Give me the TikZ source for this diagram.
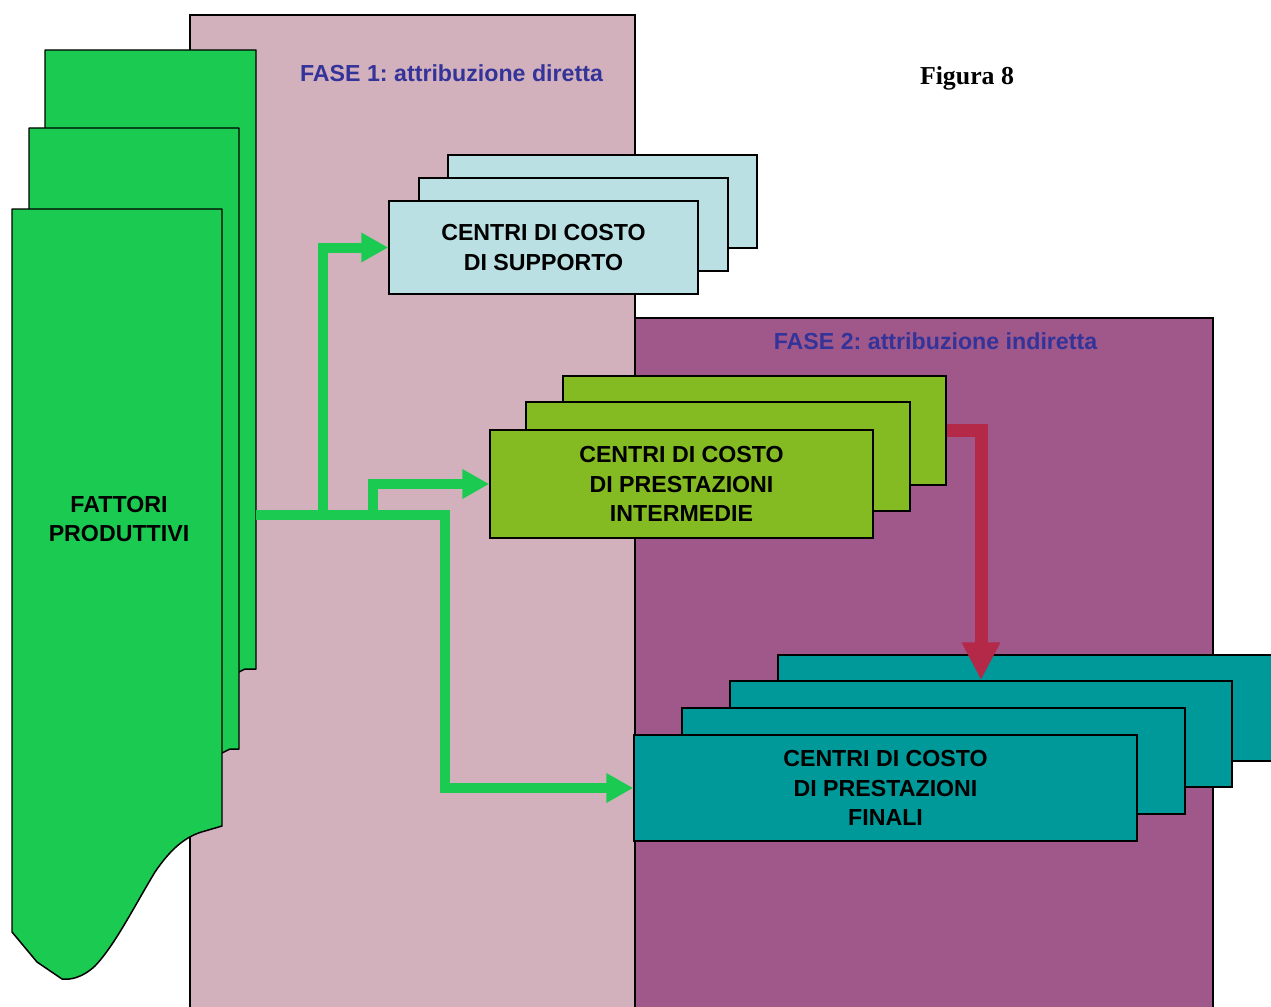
\documentclass[tikz,border=0pt]{standalone}
\usepackage{fontspec}
\setmainfont{Liberation Sans}
\newfontfamily\figfont{Liberation Serif}
\usetikzlibrary{arrows.meta}
\frenchspacing

\definecolor{phaseone}{RGB}{211,177,188}
\definecolor{phasetwo}{RGB}{160,88,138}
\definecolor{factgreen}{RGB}{27,202,80}
\definecolor{supblue}{RGB}{186,224,227}
\definecolor{olive}{RGB}{133,187,34}
\definecolor{tealbox}{RGB}{0,153,153}
\definecolor{flowred}{RGB}{180,40,72}
\definecolor{titleblue}{RGB}{51,51,153}

\def\U{0.02cm}

\tikzset{
  phase/.style={draw=black, line width=0.6pt},
  page/.style={draw=black, line width=0.85pt, fill=factgreen, line join=round},
  centre/.style={draw=black, line width=0.85pt, inner sep=0pt,
    font=\fontsize{13.2}{16.7}\selectfont\bfseries, align=center, text=black},
  supbox/.style={centre, fill=supblue},
  intbox/.style={centre, fill=olive},
  finbox/.style={centre, fill=tealbox},
  phasetitle/.style={font=\fontsize{13.2}{16}\selectfont\bfseries, text=titleblue},
  greenflow/.style={draw=factgreen, line width=10*\U, line join=miter,
    -{Triangle[length=27*\U, width=28*\U]}},
  redflow/.style={draw=flowred, line width=13*\U, line join=miter,
    -{Triangle[length=38*\U, width=36*\U]}},
}

\begin{document}
\begin{tikzpicture}[x=0.02cm, y=-0.02cm]
\useasboundingbox (0,0) rectangle (1271,1007);
\clip (0,0) rectangle (1271,1007);

% two phase backgrounds
\draw[phase, fill=phaseone] (190,15) rectangle (635,1015);
\draw[phase, fill=phasetwo] (635,318) rectangle (1213,1015);
\node[phasetitle] (t1) at (451.5,73) {FASE 1: attribuzione diretta};
\node[phasetitle] (t2) at (935.5,341) {FASE 2: attribuzione indiretta};
\node[font=\figfont\fontsize{14.7}{17}\selectfont\bfseries] (fig) at (967,78) {Figura 8};

% stack of production factors
\draw[page] (45,50) -- (256,50) -- (256,669) -- (245,669) -- (239,672) -- (45,700) -- cycle;
\draw[page] (29,128) -- (239,128) -- (239,749) -- (230,749) -- (222,753) -- (29,780) -- cycle;
\draw[page] (12,209) -- (222,209) -- (222,826) -- (205,831)
  .. controls (185,836) and (170,850) .. (155,872)
  .. controls (135,905) and (115,945) .. (95,966)
  .. controls (82,978) and (70,980) .. (62,979)
  -- (37,962) -- (12,932) -- cycle;
\node[font=\fontsize{13.2}{16.7}\selectfont\bfseries, align=center] (fattori) at (119,519)
  {FATTORI\\PRODUTTIVI};
\coordinate (src) at (256,515);

% support cost centres
\node[supbox, minimum width=309*\U, minimum height=93*\U] (supA) at (602.5,201.5) {};
\node[supbox, minimum width=309*\U, minimum height=93*\U] (supB) at (573.5,224.5) {};
\node[supbox, minimum width=309*\U, minimum height=93*\U] (support) at (543.5,247.5)
  {\smash{\raisebox{-4.2pt}{\begin{tabular}{@{}c@{}}CENTRI DI COSTO\\DI SUPPORTO\end{tabular}}}};

% intermediate cost centres
\node[intbox, minimum width=383*\U, minimum height=109*\U] (intA) at (754.5,430.5) {};
\node[intbox, minimum width=384*\U, minimum height=109*\U] (intB) at (718,456.5) {};
\node[intbox, minimum width=383*\U, minimum height=108*\U] (inter) at (681.5,484)
  {CENTRI DI COSTO\\DI PRESTAZIONI\\INTERMEDIE};

% final cost centres
\node[finbox, minimum width=502*\U, minimum height=106*\U] (finD) at (1029,708) {};
\node[finbox, minimum width=502*\U, minimum height=106*\U] (finC) at (981,734) {};
\node[finbox, minimum width=503*\U, minimum height=106*\U] (finB) at (933.5,761) {};
\node[finbox, minimum width=503*\U, minimum height=106*\U] (final) at (885.5,788)
  {CENTRI DI COSTO\\DI PRESTAZIONI\\FINALI};

% direct attribution flows
\draw[greenflow] (src) -- (323,515) |- (support.west);
\draw[greenflow] (src) -- (373,515) |- (inter.west);
\draw[greenflow] (src) -- (445,515) |- (final.west);

% indirect attribution flow
\draw[redflow] (intA.east) -| (finC.north);
\end{tikzpicture}
\end{document}
